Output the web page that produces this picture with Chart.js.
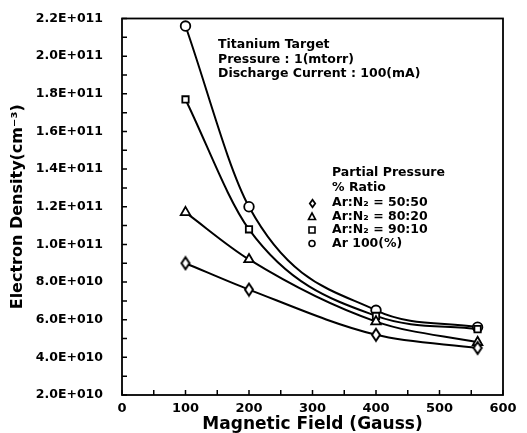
<!DOCTYPE html>
<html>
<head>
<meta charset="utf-8">
<script src="https://cdn.jsdelivr.net/npm/chart.js@4/dist/chart.umd.min.js"></script>
<style>
  html, body { margin: 0; padding: 0; background: #fff; }
  #wrap { width: 527px; height: 433px; }
</style>
</head>
<body>
<div id="wrap"><canvas id="densityChart" width="527" height="433"></canvas></div>
<script>
// Magnetic field (Gauss) at which density was measured
const FIELD = [100, 200, 400, 560];

// Electron density (cm^-3) for each gas mix
const AR_100 = [2.16e11, 1.20e11, 6.5e10, 5.6e10];
const AR_N2_9010 = [1.77e11, 1.08e11, 6.2e10, 5.5e10];
const AR_N2_8020 = [1.17e11, 9.2e10, 5.9e10, 4.8e10];
const AR_N2_5050 = [9.0e10, 7.6e10, 5.2e10, 4.5e10];

const NOTE_LINES = ['Titanium Target', 'Pressure : 1(mtorr)', 'Discharge Current : 100(mA)'];
const LEGEND_TITLE = ['Partial Pressure', '% Ratio'];
const LEGEND_LABELS = ['Ar:N\u2082 = 50:50', 'Ar:N\u2082 = 80:20', 'Ar:N\u2082 = 90:10', 'Ar 100(%)'];

const FONT = '"DejaVu Sans", sans-serif';

// tall narrow diamond marker
function makeDiamond(w, h, lw) {
    const c = document.createElement('canvas');
    c.width = w + 2 * lw;
    c.height = h + 2 * lw;
    const g = c.getContext('2d');
    g.fillStyle = '#fff';
    g.strokeStyle = '#000';
    g.lineWidth = lw;
    g.beginPath();
    g.moveTo(c.width / 2, lw);
    g.lineTo(c.width - lw, c.height / 2);
    g.lineTo(c.width / 2, c.height - lw);
    g.lineTo(lw, c.height / 2);
    g.closePath();
    g.fill();
    g.stroke();
    return c;
}
const diamond = makeDiamond(8, 12, 2);
const diamondSmall = makeDiamond(6, 8, 1.8);

function toXY(values) {
    return FIELD.map((x, i) => ({ x: x, y: values[i] }));
}

function series(values, style, radius) {
    return {
        data: toXY(values),
        showLine: true,
        borderColor: '#000',
        borderWidth: 2,
        cubicInterpolationMode: 'monotone',
        pointStyle: style,
        pointRadius: radius,
        pointBorderWidth: 1.8,
        pointBorderColor: '#000',
        pointBackgroundColor: '#fff'
    };
}

function sciLabel(v) {
    const exp = Math.floor(Math.log10(v) + 1e-9);
    const mant = v / Math.pow(10, exp);
    return mant.toFixed(1) + 'E+' + String(exp).padStart(3, '0');
}

// inward ticks, box frame, notes and hand-placed legend
const decorations = {
    id: 'decorations',
    afterDatasetsDraw(chart) {
        const { ctx, chartArea: a, scales } = chart;
        ctx.save();
        ctx.strokeStyle = '#000';
        ctx.lineWidth = 1.8;
        ctx.strokeRect(a.left, a.top, a.right - a.left, a.bottom - a.top);

        ctx.lineWidth = 1.5;
        ctx.beginPath();
        scales.x.ticks.forEach(t => {
            const px = scales.x.getPixelForValue(t.value);
            ctx.moveTo(px, a.bottom);
            ctx.lineTo(px, a.bottom - 5);
        });
        scales.y.ticks.forEach(t => {
            const py = scales.y.getPixelForValue(t.value);
            ctx.moveTo(a.left, py);
            ctx.lineTo(a.left + 5, py);
        });
        ctx.stroke();

        ctx.fillStyle = '#000';
        ctx.textBaseline = 'middle';
        ctx.textAlign = 'left';
        ctx.font = 'bold 12.5px ' + FONT;
        NOTE_LINES.forEach((s, i) => ctx.fillText(s, 218, 45 + i * 14.5));

        LEGEND_TITLE.forEach((s, i) => ctx.fillText(s, 332, 173 + i * 15));
        const styles = ['diamond', 'triangle', 'rect', 'circle'];
        LEGEND_LABELS.forEach((s, i) => {
            const y = 203 + i * 13.5;
            ctx.fillText(s, 332, y);
            if (styles[i] === 'diamond') {
                ctx.drawImage(diamondSmall, Math.round(312 - diamondSmall.width / 2), Math.round(y - diamondSmall.height / 2));
                return;
            }
            ctx.save();
            ctx.fillStyle = '#fff';
            ctx.strokeStyle = '#000';
            ctx.lineWidth = 1.6;
            ctx.beginPath();
            if (styles[i] === 'circle') ctx.arc(312, y, 3, 0, Math.PI * 2);
            else if (styles[i] === 'rect') ctx.rect(309, y - 3, 6, 6);
            else { ctx.moveTo(312, y - 3.5); ctx.lineTo(315.5, y + 3); ctx.lineTo(308.5, y + 3); ctx.closePath(); }
            ctx.fill();
            ctx.stroke();
            ctx.restore();
        });
        ctx.restore();
    }
};

new Chart(document.getElementById('densityChart'), {
    type: 'scatter',
    data: {
        datasets: [
            series(AR_N2_5050, diamond, 6),
            series(AR_N2_8020, 'triangle', 5.5),
            series(AR_N2_9010, 'rect', 4.5),
            series(AR_100, 'circle', 4.8)
        ]
    },
    options: {
        responsive: false,
        animation: false,
        layout: { padding: { left: 0, right: 24, top: 15, bottom: 0 } },
        plugins: {
            legend: { display: false },
            tooltip: { enabled: false }
        },
        scales: {
            x: {
                type: 'linear',
                min: 0,
                max: 600,
                afterFit(scale) { scale.height = 38; },
                border: { display: false },
                grid: { display: false },
                ticks: {
                    stepSize: 50,
                    padding: -2,
                    maxRotation: 0,
                    autoSkip: false,
                    color: '#000',
                    font: { family: FONT, size: 13, weight: 'bold' },
                    callback: v => (v % 100 === 0 ? String(v) : '')
                },
                title: {
                    display: true,
                    text: 'Magnetic Field (Gauss)',
                    color: '#000',
                    padding: { top: 0, bottom: 0 },
                    font: { family: FONT, size: 17, weight: 'bold', lineHeight: 1.0 }
                }
            },
            y: {
                type: 'linear',
                min: 2e10,
                max: 2.2e11,
                afterFit(scale) { scale.width = 122; },
                border: { display: false },
                grid: { display: false },
                ticks: {
                    stepSize: 1e10,
                    padding: 11,
                    autoSkip: false,
                    color: '#000',
                    font: { family: FONT, size: 12.5, weight: 'bold' },
                    callback: v => (Math.round(v / 1e10) % 2 === 0 ? sciLabel(v) : '')
                },
                title: {
                    display: true,
                    text: 'Electron Density(cm\u207B\u00B3)',
                    color: '#000',
                    padding: { top: 8, bottom: 0 },
                    font: { family: FONT, size: 16, weight: 'bold', lineHeight: 1.2 }
                }
            }
        }
    },
    plugins: [decorations]
});
</script>
</body>
</html>
